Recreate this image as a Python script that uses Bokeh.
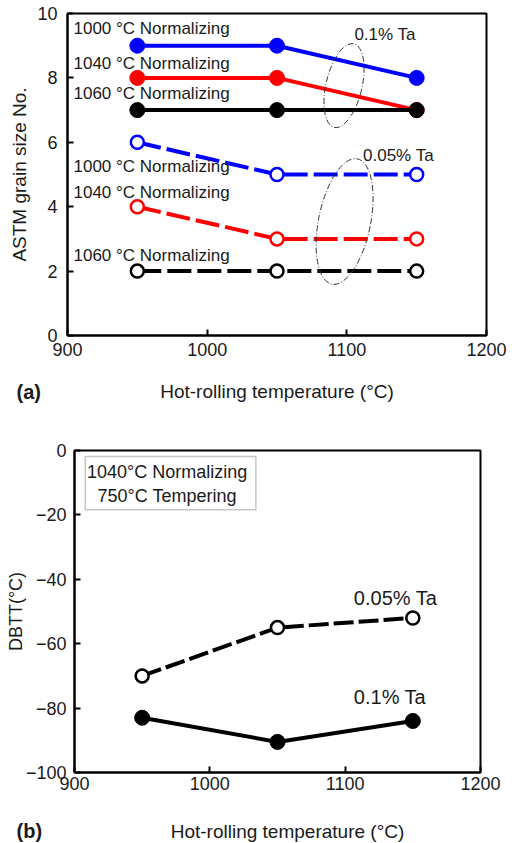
from bokeh.plotting import figure
from bokeh.models import Label, BoxAnnotation, CustomJSTickFormatter, FixedTicker, Range1d
from bokeh.embed import file_html
from bokeh.resources import INLINE

# ---- data ----
temps = [950, 1050, 1150]
grain_01_n1000 = [9, 9, 8]
grain_01_n1040 = [8, 8, 7]
grain_01_n1060 = [7, 7, 7]
grain_005_n1000 = [6, 5, 5]
grain_005_n1040 = [4, 3, 3]
grain_005_n1060 = [2, 2, 2]
dbtt_005 = [-70, -55, -52]
dbtt_01 = [-83, -90.5, -84]
x_ticks = [900, 1000, 1100, 1200]
grain_ticks = [0, 2, 4, 6, 8, 10]
dbtt_ticks = [-100, -80, -60, -40, -20, 0]

FONT = "Liberation Sans"
TXT = "#1a1a1a"
BLUE = "#0000ff"
RED = "#ff0000"
BLACK = "#000000"
W = 508


def style(p):
    p.outline_line_color = "black"
    p.outline_line_width = 2
    p.outline_line_alpha = 1
    p.grid.visible = False
    for ax in (p.xaxis[0], p.yaxis[0]):
        ax.axis_line_width = 2
        ax.major_tick_in = 6
        ax.major_tick_out = 0
        ax.major_tick_line_width = 2
        ax.minor_tick_line_color = None
        ax.major_label_text_font = FONT
        ax.major_label_text_font_size = "18px"
        ax.major_label_text_color = TXT
        ax.axis_label_text_font = FONT
        ax.axis_label_text_font_size = "19px"
        ax.axis_label_text_font_style = "normal"
        ax.axis_label_text_color = TXT
    p.xaxis[0].ticker = FixedTicker(ticks=x_ticks)


def mk(x, y, s, size="17px", align="left", bold=False, xu="data", yu="data", angle=0):
    return Label(x=x, y=y, x_units=xu, y_units=yu, text=s, text_font=FONT,
                 text_font_size=size, text_color=TXT, text_align=align,
                 text_baseline="middle", angle=angle,
                 text_font_style="bold" if bold else "normal")


def txt(p, *a, **k):
    p.add_layout(mk(*a, **k))


# ---------------- (a) ----------------
p1 = figure(width=W, height=428, output_backend="svg", toolbar_location=None,
            x_range=Range1d(900, 1200), y_range=Range1d(0, 10),
            min_border_left=67, min_border_right=W - 486, min_border_top=13, min_border_bottom=93)
style(p1)
p1.yaxis[0].ticker = FixedTicker(ticks=grain_ticks)
p1.xaxis[0].axis_label = "Hot-rolling temperature (°C)"
p1.yaxis[0].axis_label = "ASTM grain size No."
p1.xaxis[0].major_label_standoff = 7
p1.xaxis[0].axis_label_standoff = 22
p1.yaxis[0].major_label_standoff = 10
p1.yaxis[0].axis_label_standoff = 4

for vals, col in [(grain_01_n1000, BLUE), (grain_01_n1040, RED), (grain_01_n1060, BLACK)]:
    p1.line(temps, vals, line_color=col, line_width=4)
    p1.scatter(temps, vals, size=15, fill_color=col, line_color=col)
for vals, col in [(grain_005_n1000, BLUE), (grain_005_n1040, RED), (grain_005_n1060, BLACK)]:
    p1.line(temps, vals, line_color=col, line_width=4, line_dash="24 6")
    p1.scatter(temps, vals, size=13, fill_color="white", line_color=col, line_width=2.5)

p1.ellipse(x=[1098], y=[7.76], width=36, height=86, angle=-0.23,
           width_units="screen", height_units="screen", fill_color=None,
           line_color="#333333", line_width=1, line_dash="6 2 1 2")
p1.ellipse(x=[1098.4], y=[3.54], width=52, height=128, angle=-0.2,
           width_units="screen", height_units="screen", fill_color=None,
           line_color="#333333", line_width=1, line_dash="6 2 1 2")

txt(p1, 904.3, 9.53, "1000 °C Normalizing")
txt(p1, 904.3, 8.44, "1040 °C Normalizing")
txt(p1, 904.3, 7.51, "1060 °C Normalizing")
txt(p1, 904.3, 5.26, "1000 °C Normalizing")
txt(p1, 904.3, 4.45, "1040 °C Normalizing")
txt(p1, 904.3, 2.49, "1060 °C Normalizing")
txt(p1, 1105.4, 9.35, "0.1% Ta")
txt(p1, 1111.6, 5.6, "0.05% Ta")
p1.add_layout(mk(-51, 35, "(a)", size="20px", bold=True, xu="screen", yu="screen"), "below")

# ---------------- (b) ----------------
p2 = figure(width=W, height=415, output_backend="svg", toolbar_location=None,
            x_range=Range1d(900, 1200), y_range=Range1d(-100, 0),
            min_border_left=74, min_border_right=W - 480, min_border_top=22, min_border_bottom=71)
style(p2)
p2.yaxis[0].ticker = FixedTicker(ticks=dbtt_ticks)
p2.yaxis[0].formatter = CustomJSTickFormatter(
    code="return tick < 0 ? '\u2212' + Math.abs(tick) : String(tick);")
p2.yaxis[0].axis_label = "DBTT(°C)"
p2.yaxis[0].axis_label_text_font_size = "18px"
p2.yaxis[0].axis_label_standoff = -3
p2.xaxis[0].major_label_standoff = 4
p2.yaxis[0].major_label_standoff = 8

p2.line(temps, dbtt_005, line_color=BLACK, line_width=4, line_dash="20 5")
p2.scatter(temps, dbtt_005, size=13, fill_color="white", line_color=BLACK, line_width=2.5)
p2.line(temps, dbtt_01, line_color=BLACK, line_width=4)
p2.scatter(temps, dbtt_01, size=15, fill_color=BLACK, line_color=BLACK)

p2.add_layout(BoxAnnotation(left=908, right=1034, top=-1.9, bottom=-18.4,
                            fill_alpha=0, line_color="#444444", line_width=1.5))
txt(p2, 968.5, -6.7, "1040°C Normalizing", size="18px", align="center")
txt(p2, 968.5, -14.0, "750°C Tempering", size="18px", align="center")
txt(p2, 1106.4, -45.8, "0.05% Ta", size="20px")
txt(p2, 1106.4, -76.6, "0.1% Ta", size="20px")
p2.add_layout(mk(-58, -16, "(b)", size="20px", bold=True, xu="screen", yu="screen"), "below")
p2.add_layout(mk(213, 4, "Hot-rolling temperature (°C)", size="19px", align="center",
                 xu="screen", yu="screen"), "below")

open("out.html", "w").write(file_html([p1, p2], INLINE))
